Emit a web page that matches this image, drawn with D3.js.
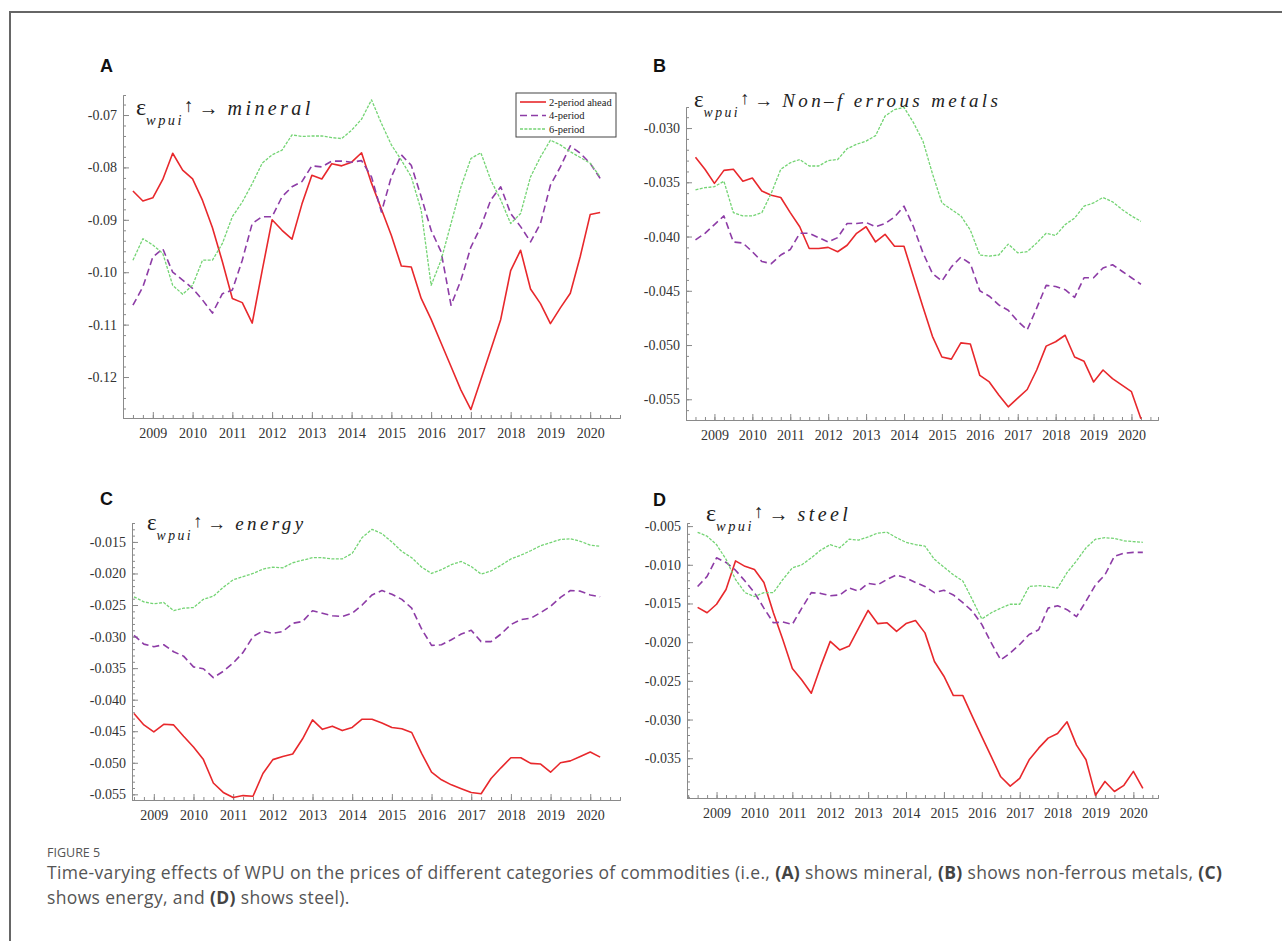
<!DOCTYPE html>
<html>
<head>
<meta charset="utf-8">
<title>FIGURE 5</title>
<script src="https://d3js.org/d3.v7.min.js"></script>
<style>
    body { margin: 0; background: #ffffff; }
    svg { display: block; background: #ffffff; }
    .axis path, .axis line { stroke: #8a8a8a; }
    .axis text { font-family: "Liberation Serif", serif; font-size: 14px; fill: #333; }
    .caption { font-family: "Open Sans", sans-serif; fill: #555; }
</style>
</head>
<body>
<div id="fig"></div>
<script>
// quarterly grid, 2008Q3 .. 2020Q2
var quarters = d3.range(2008.5, 2020.5, 0.25)
var years = d3.range(2009, 2021)

// (A) mineral
var mineral2 = [-0.0845,-0.0864,-0.0858,-0.0823,-0.0773,-0.0805,-0.0822,-0.0863,-0.0915,-0.0980,
    -0.1050,-0.1058,-0.1097,-0.0997,-0.0900,-0.0920,-0.0937,-0.0870,-0.0815,-0.0822,
    -0.0793,-0.0797,-0.0790,-0.0772,-0.0830,-0.0880,-0.0930,-0.0988,-0.0990,-0.1050,
    -0.1090,-0.1135,-0.1180,-0.1225,-0.1262,-0.1205,-0.1148,-0.1090,-0.0997,-0.0958,
    -0.1032,-0.1060,-0.1098,-0.1068,-0.1040,-0.0970,-0.0890,-0.0886]
var mineral4 = [-0.1063,-0.1028,-0.0971,-0.0955,-0.1000,-0.1015,-0.1031,-0.1053,-0.1078,-0.1041,
    -0.1034,-0.0977,-0.0907,-0.0894,-0.0894,-0.0856,-0.0837,-0.0827,-0.0797,-0.0799,
    -0.0788,-0.0788,-0.0790,-0.0787,-0.0818,-0.0885,-0.0818,-0.0776,-0.0796,-0.0856,
    -0.0920,-0.0961,-0.1063,-0.1015,-0.0952,-0.0913,-0.0862,-0.0837,-0.0888,-0.0913,
    -0.0942,-0.0907,-0.0834,-0.0799,-0.0759,-0.0773,-0.0792,-0.0821]
var mineral6 = [-0.0977,-0.0936,-0.0948,-0.0964,-0.1025,-0.1042,-0.1025,-0.0977,-0.0977,-0.0945,
    -0.0894,-0.0866,-0.0831,-0.0792,-0.0776,-0.0767,-0.0738,-0.0741,-0.0740,-0.0740,
    -0.0743,-0.0745,-0.0729,-0.0708,-0.0671,-0.0716,-0.0757,-0.0786,-0.0818,-0.0882,
    -0.1025,-0.0977,-0.0907,-0.0837,-0.0783,-0.0772,-0.0824,-0.0862,-0.0907,-0.0888,
    -0.0818,-0.0780,-0.0748,-0.0757,-0.0770,-0.0781,-0.0792,-0.0818]
var mineralTicks = [-0.12, -0.11, -0.10, -0.09, -0.08, -0.07]

// (B) non-ferrous metals
var nonferrous2 = [-0.0327,-0.0338,-0.0351,-0.0339,-0.0338,-0.0349,-0.0346,-0.0358,-0.0362,-0.0364,
    -0.0378,-0.0391,-0.0411,-0.0411,-0.0410,-0.0414,-0.0408,-0.0397,-0.0391,-0.0405,
    -0.0398,-0.0409,-0.0409,-0.0437,-0.0465,-0.0492,-0.0511,-0.0513,-0.0498,-0.0499,
    -0.0528,-0.0534,-0.0546,-0.0557,-0.0549,-0.0541,-0.0523,-0.0501,-0.0497,-0.0491,
    -0.0511,-0.0515,-0.0534,-0.0523,-0.0531,-0.0537,-0.0543,-0.0568]
var nonferrous4 = [-0.0403,-0.0397,-0.0389,-0.0381,-0.0405,-0.0406,-0.0414,-0.0423,-0.0425,-0.0417,
    -0.0412,-0.0397,-0.0397,-0.0401,-0.0405,-0.0401,-0.0388,-0.0388,-0.0387,-0.0391,
    -0.0388,-0.0382,-0.0372,-0.0391,-0.0415,-0.0434,-0.0441,-0.0428,-0.0419,-0.0425,
    -0.0450,-0.0455,-0.0463,-0.0468,-0.0478,-0.0486,-0.0466,-0.0445,-0.0446,-0.0449,
    -0.0456,-0.0438,-0.0438,-0.0429,-0.0426,-0.0432,-0.0438,-0.0444]
var nonferrous6 = [-0.0357,-0.0355,-0.0354,-0.0349,-0.0378,-0.0381,-0.0381,-0.0378,-0.0360,-0.0338,
    -0.0332,-0.0329,-0.0335,-0.0335,-0.0330,-0.0329,-0.0319,-0.0315,-0.0312,-0.0307,
    -0.0289,-0.0283,-0.0281,-0.0295,-0.0312,-0.0342,-0.0369,-0.0375,-0.0381,-0.0394,
    -0.0417,-0.0418,-0.0417,-0.0407,-0.0415,-0.0414,-0.0406,-0.0397,-0.0399,-0.0389,
    -0.0383,-0.0372,-0.0369,-0.0364,-0.0368,-0.0375,-0.0381,-0.0386]
var nonferrousTicks = [-0.055, -0.050, -0.045, -0.040, -0.035, -0.030]

// (C) energy
var energy2 = [-0.0422,-0.0440,-0.0451,-0.0439,-0.0440,-0.0458,-0.0475,-0.0495,-0.0532,-0.0547,
    -0.0555,-0.0552,-0.0553,-0.0517,-0.0495,-0.0490,-0.0486,-0.0462,-0.0432,-0.0447,
    -0.0442,-0.0449,-0.0444,-0.0431,-0.0431,-0.0437,-0.0444,-0.0446,-0.0452,-0.0485,
    -0.0515,-0.0527,-0.0535,-0.0541,-0.0547,-0.0549,-0.0525,-0.0508,-0.0492,-0.0492,
    -0.0501,-0.0502,-0.0515,-0.0500,-0.0497,-0.0490,-0.0483,-0.0491]
var energy4 = [-0.0298,-0.0312,-0.0316,-0.0313,-0.0324,-0.0331,-0.0348,-0.0351,-0.0365,-0.0355,
    -0.0342,-0.0325,-0.0300,-0.0291,-0.0295,-0.0292,-0.0279,-0.0276,-0.0259,-0.0263,
    -0.0267,-0.0268,-0.0263,-0.0250,-0.0234,-0.0227,-0.0233,-0.0241,-0.0255,-0.0288,
    -0.0314,-0.0313,-0.0305,-0.0296,-0.0290,-0.0308,-0.0308,-0.0296,-0.0281,-0.0273,
    -0.0271,-0.0262,-0.0252,-0.0238,-0.0227,-0.0228,-0.0234,-0.0237]
var energy6 = [-0.0237,-0.0245,-0.0248,-0.0246,-0.0259,-0.0255,-0.0254,-0.0241,-0.0236,-0.0222,
    -0.0210,-0.0205,-0.0200,-0.0193,-0.0190,-0.0191,-0.0183,-0.0179,-0.0175,-0.0175,
    -0.0177,-0.0177,-0.0168,-0.0143,-0.0130,-0.0137,-0.0150,-0.0165,-0.0175,-0.0190,
    -0.0200,-0.0194,-0.0186,-0.0181,-0.0189,-0.0201,-0.0196,-0.0187,-0.0177,-0.0171,
    -0.0164,-0.0156,-0.0151,-0.0146,-0.0145,-0.0149,-0.0155,-0.0157]
var energyTicks = [-0.055, -0.050, -0.045, -0.040, -0.035, -0.030, -0.025, -0.020, -0.015]

// (D) steel
var steel2 = [-0.0155,-0.0162,-0.0151,-0.0132,-0.0095,-0.0102,-0.0106,-0.0123,-0.0162,-0.0197,
    -0.0234,-0.0249,-0.0266,-0.0231,-0.0199,-0.0210,-0.0205,-0.0182,-0.0159,-0.0176,
    -0.0175,-0.0186,-0.0176,-0.0172,-0.0188,-0.0225,-0.0244,-0.0269,-0.0269,-0.0296,
    -0.0322,-0.0348,-0.0374,-0.0386,-0.0376,-0.0352,-0.0337,-0.0324,-0.0318,-0.0303,
    -0.0333,-0.0352,-0.0398,-0.0380,-0.0393,-0.0385,-0.0367,-0.0389]
var steel4 = [-0.0128,-0.0115,-0.0091,-0.0097,-0.0107,-0.0121,-0.0136,-0.0156,-0.0175,-0.0174,
    -0.0177,-0.0156,-0.0136,-0.0137,-0.0140,-0.0139,-0.0130,-0.0134,-0.0124,-0.0126,
    -0.0119,-0.0113,-0.0117,-0.0123,-0.0128,-0.0136,-0.0133,-0.0139,-0.0149,-0.0160,
    -0.0177,-0.0201,-0.0223,-0.0214,-0.0203,-0.0190,-0.0184,-0.0156,-0.0153,-0.0158,
    -0.0167,-0.0147,-0.0126,-0.0113,-0.0089,-0.0085,-0.0084,-0.0084]
var steel6 = [-0.0058,-0.0063,-0.0074,-0.0093,-0.0119,-0.0136,-0.0141,-0.0136,-0.0136,-0.0119,
    -0.0104,-0.0100,-0.0091,-0.0081,-0.0074,-0.0078,-0.0067,-0.0068,-0.0064,-0.0059,
    -0.0058,-0.0065,-0.0071,-0.0074,-0.0076,-0.0093,-0.0103,-0.0113,-0.0121,-0.0145,
    -0.0170,-0.0162,-0.0156,-0.0151,-0.0151,-0.0128,-0.0127,-0.0128,-0.0130,-0.0110,
    -0.0095,-0.0078,-0.0067,-0.0065,-0.0066,-0.0069,-0.0070,-0.0071]
var steelTicks = [-0.035, -0.030, -0.025, -0.020, -0.015, -0.010, -0.005]

var seriesNames = ["2-period ahead", "4-period", "6-period"]
var seriesStyle = [
    {color: "#e8282c", width: 1.6, dash: null},
    {color: "#8d3ca6", width: 1.6, dash: "7,4"},
    {color: "#74d474", width: 1.3, dash: "3,1.4"}
]

var width = 1282, height = 941

var svg = d3.select("#fig")
    .append("svg")
    .attr("width", width)
    .attr("height", height)

// outer frame of the figure box
svg.append("path")
    .attr("d", "M10," + height + "V12H" + width)
    .attr("fill", "none")
    .attr("stroke", "#666")
    .attr("stroke-width", 2)

var panels = [
    {letter: "A", lx: 100, ly: 72, word: "mineral", series: [mineral2, mineral4, mineral6],
     ticks: mineralTicks, dec: 2, minor: 0.002,
     xDom: [2008.25, 2020.75], xRange: [123, 620], yDom: [-0.12782, -0.06618], yRange: [418, 95],
     tx: 136, ty: 115, tsize: 20, legend: true},
    {letter: "B", lx: 653, ly: 72, word: "Non\u2013f errous metals", series: [nonferrous2, nonferrous4, nonferrous6],
     ticks: nonferrousTicks, dec: 3, minor: 0.001,
     xDom: [2008.25, 2020.7], xRange: [686, 1158], yDom: [-0.05691, -0.02806], yRange: [420, 107],
     tx: 694, ty: 107, tsize: 19},
    {letter: "C", lx: 100, ly: 505, word: "energy", series: [energy2, energy4, energy6],
     ticks: energyTicks, dec: 3, minor: 0.001,
     xDom: [2008.45, 2020.75], xRange: [132, 620], yDom: [-0.0559, -0.0120], yRange: [800, 523],
     tx: 147, ty: 530, tsize: 19},
    {letter: "D", lx: 653, ly: 506, word: "steel", series: [steel2, steel4, steel6],
     ticks: steelTicks, dec: 3, minor: 0.001,
     xDom: [2008.22, 2020.65], xRange: [687, 1158], yDom: [-0.04014, -0.0046], yRange: [798, 523],
     tx: 706, ty: 521, tsize: 20}
]

function minorValues(dom, step) {
    return d3.range(Math.ceil(dom[0] / step - 1e-6), Math.floor(dom[1] / step + 1e-6) + 1)
        .map(function(k) { return k * step })
}

function drawTitle(g, p) {
    var t = g.append("text")
        .attr("x", p.tx)
        .attr("y", p.ty)
        .attr("font-family", "Liberation Serif, serif")
        .attr("fill", "#222")
    t.append("tspan").attr("font-size", p.tsize * 1.2).text("\u03b5")
    t.append("tspan").attr("font-size", p.tsize * 0.72).attr("font-style", "italic")
        .attr("letter-spacing", 2.5).attr("dy", 10).text("wpui")
    t.append("tspan").attr("font-size", p.tsize * 0.95).attr("dy", -13).text("\u2191")
    t.append("tspan").attr("font-size", p.tsize).attr("dy", 3).attr("dx", 5).text("\u2192")
    t.append("tspan").attr("font-size", p.tsize).attr("font-style", "italic")
        .attr("letter-spacing", 3.4).attr("dx", 9).text(p.word)
}

panels.forEach(function(p) {
    var g = svg.append("g")

    var x = d3.scaleLinear().domain(p.xDom).range(p.xRange)
    var y = d3.scaleLinear().domain(p.yDom).range(p.yRange)

    // minor ticks first, then major ones with labels
    g.append("g")
        .attr("class", "axis")
        .attr("transform", "translate(0," + p.yRange[0] + ")")
        .call(d3.axisBottom(x).tickValues(minorValues(p.xDom, 0.25)).tickSize(-3).tickFormat(""))
    g.append("g")
        .attr("class", "axis")
        .attr("transform", "translate(0," + p.yRange[0] + ")")
        .call(d3.axisBottom(x).tickValues(years).tickSizeInner(-6).tickSizeOuter(0).tickPadding(10)
            .tickFormat(function(d) { return d }))

    g.append("g")
        .attr("class", "axis")
        .attr("transform", "translate(" + p.xRange[0] + ",0)")
        .call(d3.axisLeft(y).tickValues(minorValues(p.yDom, p.minor)).tickSize(-3).tickFormat(""))
    g.append("g")
        .attr("class", "axis")
        .attr("transform", "translate(" + p.xRange[0] + ",0)")
        .call(d3.axisLeft(y).tickValues(p.ticks).tickSizeInner(-6).tickSizeOuter(0).tickPadding(6)
            .tickFormat(function(d) { return d.toFixed(p.dec) }))

    var line = d3.line()
        .x(function(d, i) { return x(quarters[i]) })
        .y(function(d) { return y(d) })

    g.selectAll(".series")
        .data(p.series)
        .enter().append("path")
        .attr("class", "series")
        .attr("d", line)
        .attr("fill", "none")
        .attr("stroke", function(d, i) { return seriesStyle[i].color })
        .attr("stroke-width", function(d, i) { return seriesStyle[i].width })
        .attr("stroke-dasharray", function(d, i) { return seriesStyle[i].dash })
        .attr("stroke-linejoin", "round")

    drawTitle(g, p)

    g.append("text")
        .attr("x", p.lx)
        .attr("y", p.ly)
        .attr("font-family", "Liberation Sans, Arial, sans-serif")
        .attr("font-weight", "bold")
        .attr("font-size", 18)
        .attr("fill", "#111")
        .text(p.letter)

    if (p.legend) {
        var lg = g.append("g").attr("transform", "translate(516,93)")
        lg.append("rect")
            .attr("width", 100).attr("height", 44)
            .attr("fill", "#fff").attr("stroke", "#444").attr("stroke-width", 1)
        var item = lg.selectAll(".item")
            .data(seriesNames)
            .enter().append("g")
            .attr("transform", function(d, i) { return "translate(0," + (9 + i * 13.5) + ")" })
        item.append("line")
            .attr("x1", 4).attr("x2", 30)
            .attr("stroke", function(d, i) { return seriesStyle[i].color })
            .attr("stroke-width", function(d, i) { return seriesStyle[i].width })
            .attr("stroke-dasharray", function(d, i) { return seriesStyle[i].dash })
        item.append("text")
            .attr("x", 33).attr("dy", "0.35em")
            .attr("font-family", "Liberation Serif, serif")
            .attr("font-size", 10.5)
            .attr("fill", "#222")
            .text(function(d) { return d })
    }
})

// caption
svg.append("text")
    .attr("class", "caption")
    .attr("x", 47).attr("y", 857)
    .attr("font-size", 12.5)
    .text("FIGURE 5")

var captionLines = [
    [["Time-varying effects of WPU on the prices of different categories of commodities (i.e., ", 0], ["(A)", 1],
     [" shows mineral, ", 0], ["(B)", 1], [" shows non-ferrous metals, ", 0], ["(C)", 1]],
    [["shows energy, and ", 0], ["(D)", 1], [" shows steel).", 0]]
]
captionLines.forEach(function(parts, i) {
    var t = svg.append("text")
        .attr("class", "caption")
        .attr("x", 47).attr("y", 879 + i * 25)
        .attr("font-size", 17.5)
        .attr("letter-spacing", 0.35)
    parts.forEach(function(p) {
        t.append("tspan")
            .attr("font-weight", p[1] ? 700 : 400)
            .attr("fill", p[1] ? "#444" : "#555")
            .text(p[0])
    })
})
</script>
</body>
</html>
